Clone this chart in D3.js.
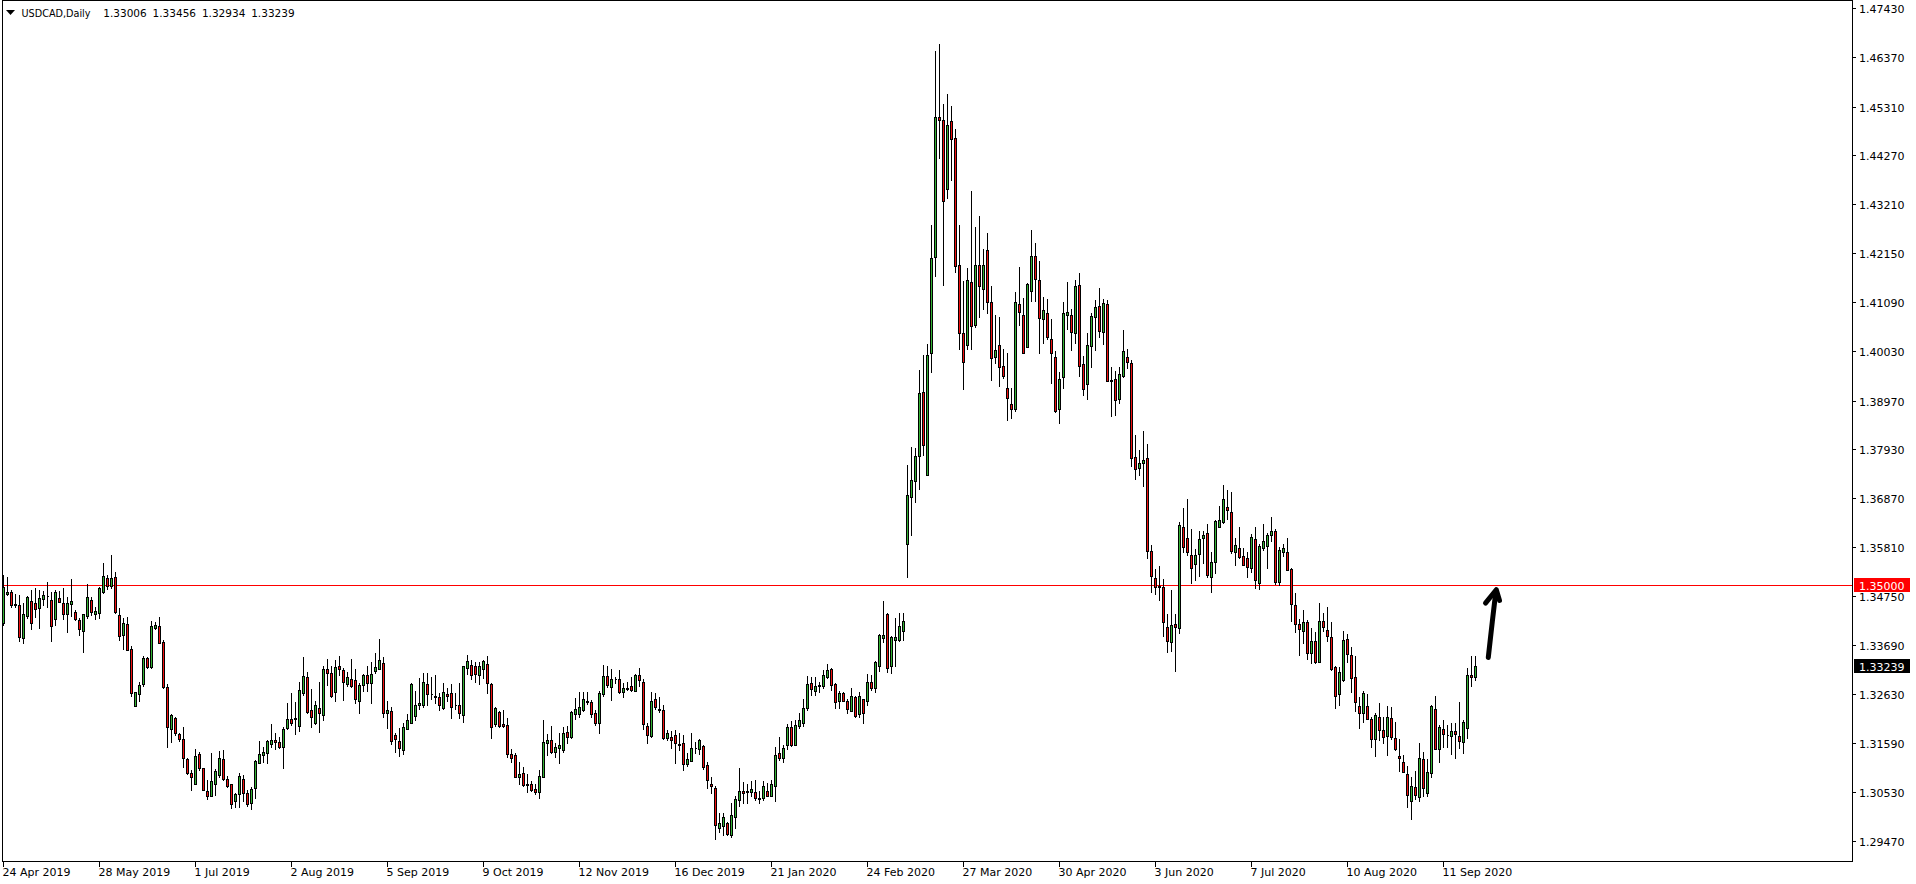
<!DOCTYPE html>
<html><head><meta charset="utf-8">
<script src="https://cdn.jsdelivr.net/npm/d3@7"></script>
<style>html,body{margin:0;padding:0;background:#fff;overflow:hidden}</style>
</head><body><svg id="c" width="1916" height="884"></svg>
<script>
const symbolTitle = "USDCAD,Daily";
const titleOHLC = ["1.33006", "1.33456", "1.32934", "1.33239"];

const opens = [
1.3417,1.3479,1.3483,1.3458,1.3455,1.3385,1.3432,1.3464,1.3460,1.3450,1.3468,1.3476,1.3467,1.3425,1.3471,1.3460,1.3436,1.3458,1.3441,1.3424,
1.3401,1.3432,1.3467,1.3436,1.3439,1.3485,1.3514,1.3498,1.3516,1.3434,1.3391,1.3415,1.3361,1.3239,1.3264,1.3285,1.3341,1.3323,1.3406,1.3411,
1.3377,1.3279,1.3188,1.3212,1.3177,1.3166,1.3124,1.3093,1.3071,1.3135,1.3104,1.3055,1.3045,1.3069,1.3089,1.3124,1.3081,1.3069,1.3033,1.3048,
1.3081,1.3050,1.3028,1.3061,1.3116,1.3133,1.3136,1.3157,1.3165,1.3160,1.3149,1.3190,1.3210,1.3212,1.3196,1.3266,1.3301,1.3229,1.3201,1.3234,
1.3219,1.3317,1.3309,1.3268,1.3324,1.3315,1.3285,1.3296,1.3294,1.3248,1.3283,1.3304,1.3288,1.3314,1.3319,1.3330,1.3222,1.3227,1.3176,1.3163,
1.3143,1.3189,1.3202,1.3217,1.3240,1.3240,1.3285,1.3265,1.3259,1.3257,1.3233,1.3264,1.3266,1.3241,1.3240,1.3219,1.3321,1.3326,1.3324,1.3306,
1.3317,1.3328,1.3285,1.3199,1.3225,1.3199,1.3197,1.3134,1.3132,1.3084,1.3093,1.3069,1.3069,1.3059,1.3053,1.3086,1.3159,1.3165,1.3138,1.3148,
1.3144,1.3182,1.3171,1.3220,1.3221,1.3230,1.3248,1.3246,1.3222,1.3202,1.3264,1.3303,1.3280,1.3296,1.3296,1.3269,1.3278,1.3281,1.3271,1.3305,
1.3291,1.3194,1.3174,1.3253,1.3231,1.3229,1.3170,1.3171,1.3176,1.3156,1.3158,1.3113,1.3120,1.3147,1.3145,1.3152,1.3111,1.3071,1.3061,1.2976,
1.2980,1.2985,1.2961,1.2999,1.3035,1.3054,1.3054,1.3052,1.3052,1.3039,1.3039,1.3054,1.3045,1.3066,1.3136,1.3125,1.3153,1.3193,1.3153,1.3194,
1.3202,1.3234,1.3287,1.3271,1.3282,1.3282,1.3301,1.3317,1.3285,1.3250,1.3266,1.3250,1.3228,1.3258,1.3220,1.3253,1.3250,1.3291,1.3276,1.3325,
1.3385,1.3437,1.3324,1.3381,1.3381,1.3400,1.3587,1.3689,1.3724,1.3777,1.3916,1.3736,1.4000,1.4206,1.4508,1.4502,1.4354,1.4500,1.4463,1.4189,
1.4043,1.4016,1.4153,1.4060,1.4189,1.4137,1.4222,1.4110,1.3990,1.4016,1.3971,1.3923,1.3889,1.3879,1.4105,1.4082,1.4013,1.4134,1.4209,1.4157,
1.4072,1.4085,1.4030,1.3990,1.3878,1.3947,1.4081,1.4081,1.4042,1.4146,1.3976,1.3932,1.4015,1.4077,1.4101,1.4044,1.4105,1.3941,1.3944,1.3900,
1.3950,1.3990,1.3977,1.3775,1.3751,1.3762,1.3772,1.3572,1.3514,1.3498,1.3494,1.3408,1.3376,1.3415,1.3407,1.3624,1.3600,1.3564,1.3544,1.3565,
1.3601,1.3611,1.3517,1.3548,1.3625,1.3634,1.3667,1.3656,1.3571,1.3580,1.3561,1.3557,1.3536,1.3598,1.3504,1.3580,1.3583,1.3606,1.3616,1.3506,
1.3571,1.3570,1.3534,1.3456,1.3414,1.3399,1.3419,1.3352,1.3378,1.3332,1.3421,1.3402,1.3386,1.3322,1.3263,1.3294,1.3382,1.3348,1.3300,1.3238,
1.3222,1.3238,1.3210,1.3166,1.3215,1.3186,1.3174,1.3212,1.3169,1.3130,1.3117,1.3091,1.3034,1.3063,1.3041,1.3123,1.3050,1.3093,1.3231,1.3145,
1.3189,1.3176,1.3173,1.3184,1.3173,1.3160,1.3190,1.3305,1.33006];

const highs = [
1.3521,1.3517,1.3488,1.3480,1.3478,1.3460,1.3475,1.3488,1.3492,1.3488,1.3487,1.3505,1.3483,1.3488,1.3486,1.3492,1.3474,1.3512,1.3445,1.3427,
1.3437,1.3501,1.3474,1.3452,1.3495,1.3547,1.3520,1.3564,1.3527,1.3449,1.3427,1.3430,1.3368,1.3269,1.3291,1.3345,1.3343,1.3422,1.3420,1.3430,
1.3381,1.3285,1.3221,1.3214,1.3181,1.3193,1.3125,1.3100,1.3145,1.3138,1.3105,1.3079,1.3136,1.3102,1.3141,1.3143,1.3087,1.3071,1.3051,1.3093,
1.3089,1.3057,1.3063,1.3122,1.3163,1.3149,1.3165,1.3199,1.3181,1.3172,1.3192,1.3245,1.3266,1.3246,1.3289,1.3343,1.3312,1.3275,1.3248,1.3291,
1.3325,1.3340,1.3325,1.3337,1.3346,1.3320,1.3312,1.3340,1.3318,1.3287,1.3307,1.3324,1.3332,1.3352,1.3383,1.3344,1.3248,1.3237,1.3179,1.3190,
1.3201,1.3221,1.3287,1.3271,1.3299,1.3309,1.3309,1.3301,1.3305,1.3266,1.3287,1.3276,1.3285,1.3266,1.3288,1.3325,1.3348,1.3337,1.3334,1.3334,
1.3338,1.3346,1.3287,1.3237,1.3227,1.3230,1.3212,1.3145,1.3136,1.3118,1.3107,1.3091,1.3077,1.3071,1.3100,1.3208,1.3178,1.3195,1.3159,1.3179,
1.3192,1.3195,1.3227,1.3255,1.3269,1.3269,1.3268,1.3251,1.3230,1.3271,1.3327,1.3325,1.3317,1.3301,1.3316,1.3287,1.3291,1.3301,1.3307,1.3321,
1.3296,1.3202,1.3269,1.3266,1.3258,1.3240,1.3186,1.3185,1.3186,1.3179,1.3176,1.3137,1.3179,1.3161,1.3167,1.3154,1.3118,1.3084,1.3066,1.3007,
1.3007,1.2989,1.3028,1.3044,1.3104,1.3074,1.3071,1.3077,1.3079,1.3055,1.3077,1.3073,1.3079,1.3150,1.3171,1.3153,1.3199,1.3206,1.3208,1.3224,
1.3253,1.3303,1.3301,1.3301,1.3291,1.3316,1.3328,1.3321,1.3287,1.3271,1.3269,1.3253,1.3276,1.3260,1.3268,1.3253,1.3307,1.3305,1.3336,1.3393,
1.3464,1.3439,1.3389,1.3429,1.3438,1.3438,1.3758,1.3797,1.3795,1.3962,1.3996,1.4018,1.4275,1.4651,1.4667,1.4536,1.4558,1.4532,1.4483,1.4275,
1.4155,1.4183,1.4349,1.4271,1.4296,1.4223,1.4259,1.4143,1.4081,1.4078,1.4008,1.4000,1.3923,1.4131,1.4184,1.4119,1.4151,1.4265,1.4237,1.4199,
1.4121,1.4116,1.4073,1.4004,1.3959,1.4109,1.4153,1.4094,1.4157,1.4172,1.3992,1.4043,1.4085,1.4114,1.4140,1.4116,1.4114,1.3970,1.3961,1.3970,
1.4049,1.4008,1.3985,1.3823,1.3790,1.3832,1.3803,1.3585,1.3534,1.3540,1.3512,1.3437,1.3488,1.3437,1.3634,1.3666,1.3685,1.3621,1.3576,1.3616,
1.3616,1.3631,1.3570,1.3639,1.3670,1.3715,1.3704,1.3699,1.3600,1.3624,1.3580,1.3571,1.3609,1.3624,1.3587,1.3631,1.3612,1.3645,1.3619,1.3581,
1.3588,1.3600,1.3536,1.3481,1.3426,1.3445,1.3424,1.3406,1.3398,1.3460,1.3439,1.3452,1.3420,1.3324,1.3323,1.3399,1.3393,1.3366,1.3346,1.3258,
1.3271,1.3264,1.3215,1.3222,1.3244,1.3215,1.3238,1.3237,1.3203,1.3167,1.3133,1.3109,1.3086,1.3097,1.3159,1.3140,1.3124,1.3240,1.3260,1.3197,
1.3208,1.3197,1.3201,1.3201,1.3246,1.3209,1.3321,1.3346,1.33456];

const lows = [
1.3413,1.3478,1.3451,1.3452,1.3379,1.3375,1.3429,1.3404,1.3430,1.3407,1.3457,1.3452,1.3379,1.3413,1.3462,1.3425,1.3398,1.3432,1.3424,1.3391,
1.3355,1.3429,1.3434,1.3426,1.3429,1.3481,1.3490,1.3492,1.3438,1.3381,1.3361,1.3359,1.3260,1.3239,1.3248,1.3282,1.3320,1.3321,1.3404,1.3374,
1.3278,1.3149,1.3161,1.3176,1.3163,1.3106,1.3091,1.3058,1.3070,1.3100,1.3056,1.3037,1.3043,1.3046,1.3086,1.3079,1.3064,1.3018,1.3021,1.3021,
1.3034,1.3022,1.3015,1.3039,1.3115,1.3118,1.3116,1.3150,1.3145,1.3147,1.3104,1.3188,1.3197,1.3177,1.3185,1.3262,1.3222,1.3193,1.3199,1.3183,
1.3208,1.3284,1.3258,1.3250,1.3305,1.3251,1.3282,1.3280,1.3245,1.3224,1.3271,1.3271,1.3245,1.3310,1.3318,1.3215,1.3190,1.3156,1.3138,1.3131,
1.3135,1.3188,1.3201,1.3208,1.3231,1.3237,1.3240,1.3253,1.3245,1.3230,1.3232,1.3248,1.3213,1.3232,1.3213,1.3204,1.3307,1.3296,1.3289,1.3285,
1.3298,1.3267,1.3170,1.3196,1.3193,1.3193,1.3129,1.3118,1.3084,1.3071,1.3066,1.3053,1.3055,1.3048,1.3040,1.3084,1.3133,1.3136,1.3129,1.3115,
1.3140,1.3158,1.3170,1.3210,1.3214,1.3228,1.3242,1.3215,1.3197,1.3179,1.3260,1.3280,1.3251,1.3287,1.3267,1.3258,1.3273,1.3271,1.3271,1.3282,
1.3189,1.3158,1.3172,1.3232,1.3226,1.3167,1.3165,1.3147,1.3115,1.3143,1.3100,1.3109,1.3119,1.3136,1.3135,1.3102,1.3062,1.3050,1.2951,1.2967,
1.2960,1.2959,1.2955,1.2974,1.3023,1.3028,1.3030,1.3045,1.3035,1.3030,1.3035,1.3043,1.3043,1.3034,1.3122,1.3117,1.3146,1.3152,1.3153,1.3191,
1.3194,1.3230,1.3262,1.3262,1.3269,1.3276,1.3298,1.3273,1.3234,1.3234,1.3249,1.3223,1.3228,1.3214,1.3215,1.3201,1.3240,1.3273,1.3269,1.3314,
1.3377,1.3312,1.3310,1.3324,1.3379,1.3381,1.3516,1.3608,1.3679,1.3706,1.3780,1.3736,1.3959,1.4165,1.4420,1.4147,1.4334,1.4373,1.4175,1.4009,
1.3922,1.4009,1.4009,1.4055,1.4077,1.4094,1.4085,1.3942,1.3977,1.3929,1.3945,1.3854,1.3860,1.3875,1.4061,1.3999,1.4013,1.4112,1.4112,1.3999,
1.4022,1.4030,1.3934,1.3873,1.3849,1.3925,1.4051,1.4006,1.4022,1.3951,1.3908,1.3900,1.3970,1.4005,1.4033,1.4018,1.3939,1.3864,1.3866,1.3891,
1.3948,1.3968,1.3756,1.3727,1.3736,1.3713,1.3557,1.3483,1.3479,1.3467,1.3390,1.3355,1.3357,1.3314,1.3395,1.3571,1.3564,1.3503,1.3511,1.3519,
1.3546,1.3517,1.3485,1.3526,1.3625,1.3632,1.3641,1.3569,1.3543,1.3557,1.3542,1.3517,1.3528,1.3492,1.3490,1.3575,1.3535,1.3594,1.3501,1.3499,
1.3562,1.3532,1.3422,1.3398,1.3348,1.3375,1.3339,1.3330,1.3330,1.3332,1.3400,1.3379,1.3316,1.3233,1.3240,1.3293,1.3332,1.3269,1.3228,1.3190,
1.3204,1.3210,1.3150,1.3131,1.3165,1.3158,1.3133,1.3166,1.3143,1.3099,1.3095,1.3020,1.2994,1.3037,1.3034,1.3043,1.3044,1.3084,1.3145,1.3118,
1.3149,1.3150,1.3134,1.3125,1.3147,1.3136,1.3170,1.3282,1.32934];

const closes = [
1.3495,1.3484,1.3455,1.3455,1.3388,1.3437,1.3473,1.3418,1.3447,1.3471,1.3477,1.3475,1.3411,1.3483,1.3463,1.3436,1.3460,1.3465,1.3426,1.3404,
1.3436,1.3473,1.3440,1.3443,1.3492,1.3519,1.3498,1.3514,1.3440,1.3390,1.3417,1.3359,1.3267,1.3268,1.3284,1.3342,1.3323,1.3411,1.3413,1.3375,
1.3280,1.3192,1.3218,1.3179,1.3166,1.3125,1.3093,1.3086,1.3130,1.3104,1.3057,1.3043,1.3077,1.3097,1.3126,1.3080,1.3066,1.3026,1.3048,1.3087,
1.3051,1.3026,1.3059,1.3120,1.3134,1.3140,1.3163,1.3165,1.3160,1.3150,1.3188,1.3210,1.3201,1.3211,1.3273,1.3303,1.3226,1.3215,1.3240,1.3224,
1.3318,1.3310,1.3260,1.3322,1.3319,1.3291,1.3300,1.3282,1.3253,1.3284,1.3304,1.3287,1.3307,1.3322,1.3337,1.3222,1.3229,1.3163,1.3168,1.3148,
1.3192,1.3209,1.3285,1.3240,1.3245,1.3289,1.3263,1.3263,1.3258,1.3241,1.3268,1.3260,1.3235,1.3240,1.3222,1.3324,1.3335,1.3306,1.3307,1.3324,
1.3335,1.3288,1.3192,1.3234,1.3196,1.3196,1.3135,1.3125,1.3086,1.3091,1.3068,1.3068,1.3056,1.3053,1.3087,1.3161,1.3165,1.3138,1.3150,1.3153,
1.3181,1.3172,1.3225,1.3232,1.3236,1.3253,1.3247,1.3220,1.3202,1.3266,1.3303,1.3283,1.3296,1.3297,1.3269,1.3278,1.3275,1.3272,1.3306,1.3294,
1.3200,1.3175,1.3249,1.3235,1.3230,1.3170,1.3179,1.3165,1.3158,1.3153,1.3114,1.3124,1.3147,1.3148,1.3165,1.3107,1.3079,1.3066,1.2981,1.2985,
1.2998,1.2962,1.3002,1.3037,1.3054,1.3050,1.3053,1.3060,1.3040,1.3038,1.3065,1.3045,1.3070,1.3132,1.3125,1.3147,1.3193,1.3153,1.3197,1.3207,
1.3233,1.3285,1.3275,1.3281,1.3283,1.3304,1.3316,1.3284,1.3247,1.3266,1.3250,1.3232,1.3259,1.3217,1.3259,1.3222,1.3291,1.3278,1.3333,1.3392,
1.3392,1.3321,1.3386,1.3386,1.3411,1.3421,1.3693,1.3726,1.3777,1.3914,1.3802,1.3995,1.4204,1.4508,1.4502,1.4328,1.4492,1.4461,1.4188,1.4043,
1.3980,1.4158,1.4057,1.4190,1.4143,1.4189,1.4110,1.3988,1.4006,1.3970,1.3949,1.3902,1.3878,1.4109,1.4089,1.3999,1.4148,1.4209,1.4159,1.4074,
1.4092,1.4035,1.3999,1.3875,1.3944,1.4085,1.4087,1.4044,1.4144,1.3972,1.3921,1.4016,1.4079,1.4099,1.4046,1.4107,1.3939,1.3940,1.3898,1.3954,
1.4004,1.3980,1.3772,1.3749,1.3762,1.3769,1.3572,1.3519,1.3494,1.3494,1.3420,1.3379,1.3413,1.3409,1.3629,1.3582,1.3571,1.3536,1.3564,1.3598,
1.3607,1.3521,1.3548,1.3637,1.3639,1.3684,1.3661,1.3573,1.3585,1.3560,1.3543,1.3539,1.3602,1.3511,1.3583,1.3594,1.3607,1.3616,1.3506,1.3575,
1.3579,1.3532,1.3458,1.3416,1.3405,1.3419,1.3353,1.3378,1.3334,1.3421,1.3409,1.3390,1.3317,1.3260,1.3311,1.3381,1.3350,1.3298,1.3246,1.3222,
1.3266,1.3211,1.3166,1.3219,1.3186,1.3172,1.3215,1.3171,1.3145,1.3125,1.3096,1.3046,1.3066,1.3046,1.3125,1.3061,1.3095,1.3238,1.3145,1.3192,
1.3177,1.3175,1.3184,1.3177,1.3163,1.3204,1.3305,1.3300,1.33239];

const dateLabels = ["24 Apr 2019","28 May 2019","1 Jul 2019","2 Aug 2019","5 Sep 2019","9 Oct 2019","12 Nov 2019","16 Dec 2019",
  "21 Jan 2020","24 Feb 2020","27 Mar 2020","30 Apr 2020","3 Jun 2020","7 Jul 2020","10 Aug 2020","11 Sep 2020"];
const dateLabelIndex = [0,24,48,72,96,120,144,168,192,216,240,264,288,312,336,360];

const priceTicks = [1.47430,1.46370,1.45310,1.44270,1.43210,1.42150,1.41090,1.40030,1.38970,1.37930,1.36870,1.35810,1.34750,1.33690,1.32630,1.31590,1.30530,1.29470];

const levelPrice = 1.35000;
const lastClose = 1.33239;

// hand-drawn arrow annotation, in (bar index, price)
const arrowShaft = [[371.2,1.3343],[372.2,1.3420],[373.1,1.3486]];
const arrowHead = [[370.5,1.3460],[373.2,1.3489],[374.0,1.3466]];

const W = 1916, H = 884;
const plotL = 2, plotR = 1852, plotT = 0, plotB = 861;
const bullColor = "#33b233", bearColor = "#f01010";
const FONT = "DejaVu Sans";
const FS = "11px";

const svg = d3.select("#c");
svg.append("rect").attr("width", W).attr("height", H).attr("fill", "#fff");

const x = d3.scaleLinear().domain([0, 368]).range([3.5, 3.5 + 4 * 368]);
const y = d3.scaleLinear().domain([1.2947, 1.4743]).range([841, 8.3]);

const candles = opens.map((o, i) => ({ i, o, h: highs[i], l: lows[i], c: closes[i] }));

svg.append("clipPath").attr("id", "plot").append("rect")
  .attr("x", plotL).attr("y", plotT).attr("width", plotR - plotL).attr("height", plotB - plotT);

const plot = svg.append("g").attr("clip-path", "url(#plot)");

// level line
const yl = Math.round(y(levelPrice)) + 0.5;
plot.append("line").attr("x1", plotL).attr("x2", plotR).attr("y1", yl).attr("y2", yl)
  .attr("stroke", "#ff0000").attr("stroke-width", 1).attr("shape-rendering", "crispEdges");

const cg = plot.append("g").attr("shape-rendering", "crispEdges");
cg.selectAll("line.wick").data(candles).join("line").attr("class", "wick")
  .attr("x1", d => x(d.i)).attr("x2", d => x(d.i))
  .attr("y1", d => Math.round(y(d.h))).attr("y2", d => Math.round(y(d.l)) + 1)
  .attr("stroke", "#000").attr("stroke-width", 1);

cg.selectAll("path.body").data(candles).join("path").attr("class", "body")
  .attr("d", d => {
    const t = Math.round(y(Math.max(d.o, d.c))) + 0.5;
    const b = Math.round(y(Math.min(d.o, d.c))) + 0.5;
    const x0 = x(d.i) - 1, x1 = x(d.i) + 1;
    return `M${x0},${t}H${x1}V${b}H${x0}Z`;
  })
  .attr("fill", d => d.c >= d.o ? bullColor : bearColor)
  .attr("stroke", "#000").attr("stroke-width", 1);

// arrow annotation
const line = d3.line().x(d => x(d[0])).y(d => y(d[1])).curve(d3.curveCatmullRom);
plot.append("path").attr("d", line(arrowShaft)).attr("fill", "none").attr("stroke", "#000")
  .attr("stroke-width", 5).attr("stroke-linecap", "round").attr("stroke-linejoin", "round");
plot.append("path").attr("d", d3.line().x(d => x(d[0])).y(d => y(d[1]))(arrowHead)).attr("fill", "none").attr("stroke", "#000")
  .attr("stroke-width", 5).attr("stroke-linecap", "round").attr("stroke-linejoin", "round");

// frame
const fr = svg.append("g").attr("shape-rendering", "crispEdges").attr("stroke", "#000").attr("stroke-width", 1);
fr.append("line").attr("x1", plotL + 0.5).attr("x2", plotL + 0.5).attr("y1", 0).attr("y2", plotB);
fr.append("line").attr("x1", plotR + 0.5).attr("x2", plotR + 0.5).attr("y1", 0).attr("y2", plotB + 1);
fr.append("line").attr("x1", plotL).attr("x2", plotR + 1).attr("y1", plotB + 0.5).attr("y2", plotB + 0.5);
fr.append("line").attr("x1", plotL).attr("x2", plotR + 1).attr("y1", 0.5).attr("y2", 0.5);

// right price axis
const ay = svg.append("g");
priceTicks.forEach(v => {
  const yy = Math.round(y(v)) + 0.5;
  ay.append("line").attr("x1", plotR + 1).attr("x2", plotR + 4).attr("y1", yy).attr("y2", yy)
    .attr("stroke", "#000").attr("shape-rendering", "crispEdges");
  ay.append("text").attr("x", plotR + 7).attr("y", yy + 4).attr("font-family", FONT)
    .attr("font-size", FS).attr("fill", "#000").text(v.toFixed(5));
});

function priceBox(v, bg) {
  const yy = Math.round(y(v));
  ay.append("rect").attr("x", plotR + 2).attr("y", yy - 7).attr("width", 56).attr("height", 14)
    .attr("fill", bg).attr("shape-rendering", "crispEdges");
  ay.append("text").attr("x", plotR + 7).attr("y", yy + 4.5).attr("font-family", FONT)
    .attr("font-size", FS).attr("fill", "#fff").text(v.toFixed(5));
}
priceBox(levelPrice, "#ff0000");
priceBox(lastClose, "#000");

// bottom date axis
const ax = svg.append("g");
dateLabelIndex.forEach((idx, k) => {
  const xx = x(idx);
  ax.append("line").attr("x1", xx).attr("x2", xx).attr("y1", plotB + 1).attr("y2", plotB + 6)
    .attr("stroke", "#000").attr("shape-rendering", "crispEdges");
  ax.append("text").attr("x", xx - 1).attr("y", 876).attr("font-family", FONT)
    .attr("font-size", FS).attr("fill", "#000").text(dateLabels[k]);
});

// title
svg.append("path").attr("d", "M6,10L15,10L10.5,15Z").attr("fill", "#000");
svg.append("text").attr("x", 21.5).attr("y", 17).attr("font-family", FONT).attr("font-size", "10.5px")
  .attr("textLength", 69).attr("lengthAdjust", "spacingAndGlyphs").text(symbolTitle);
titleOHLC.forEach((t, k) => {
  svg.append("text").attr("x", 103.3 + 49.3 * k).attr("y", 17).attr("font-family", FONT)
    .attr("font-size", "10.5px").text(t);
});
</script>
</body></html>
